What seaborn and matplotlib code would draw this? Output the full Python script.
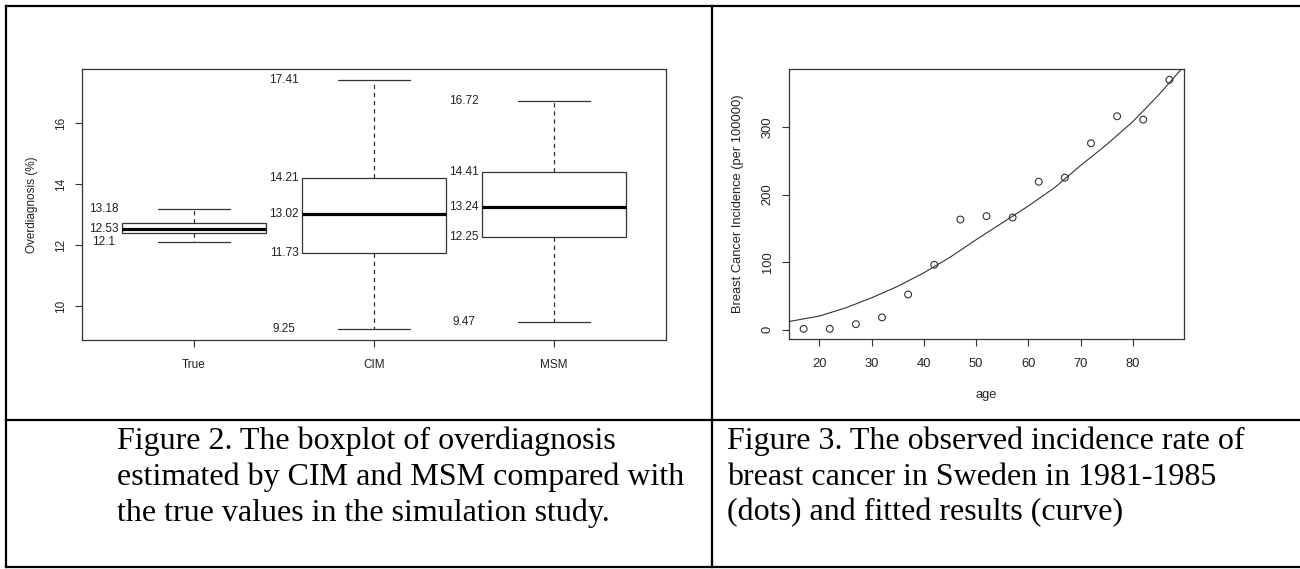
import numpy as np
import pandas as pd
import matplotlib
matplotlib.use('Agg')
import matplotlib.pyplot as plt
from matplotlib.lines import Line2D
import seaborn as sns

# ============================================================
# DATA
# ============================================================

# Figure 2: five-number summary per method (min, Q1, median, Q3, max)
methods  = ['True', 'CIM', 'MSM']
true_5   = [12.10, 12.40, 12.53, 12.72, 13.18]
cim_5    = [9.25, 11.73, 13.02, 14.21, 17.41]
msm_5    = [9.47, 12.25, 13.24, 14.41, 16.72]

# printed labels next to each box
true_lbl = [13.18, 12.53, 12.1]
cim_lbl  = [17.41, 14.21, 13.02, 11.73, 9.25]
msm_lbl  = [16.72, 14.41, 13.24, 12.25, 9.47]

# Figure 3: observed incidence (dots) and fitted curve
obs_age  = [17, 22, 27, 32, 37, 42, 47, 52, 57, 62, 67, 72, 77, 82, 87]
obs_rate = [1, 1, 8, 18, 52, 96, 163, 168, 166, 219, 225, 276, 316, 311, 370]
fit_age  = [12, 15, 20, 25, 30, 35, 40, 45, 50, 55, 60, 65, 70, 75, 80, 85, 90]
fit_rate = [9, 13, 20, 32, 47, 64, 84, 107, 133, 158, 183, 210, 243, 274, 308, 348, 392]

cap2 = ("Figure 2. The boxplot of overdiagnosis\n"
        "estimated by CIM and MSM compared with\n"
        "the true values in the simulation study.")
cap3 = ("Figure 3. The observed incidence rate of\n"
        "breast cancer in Sweden in 1981-1985\n"
        "(dots) and fitted results (curve)")

# ============================================================
# STYLE
# ============================================================

sns.set_style('ticks')
plt.rcParams['font.family'] = ['Liberation Sans', 'DejaVu Sans']
plt.rcParams['axes.edgecolor'] = '#333333'
plt.rcParams['axes.linewidth'] = 0.9

W, H = 1300, 569
fig = plt.figure(figsize=(W / 100, H / 100), dpi=100)
fig.patch.set_facecolor('white')

def fx(px):
    return px / W

def fy(py):
    return 1 - py / H

# ============================================================
# LEFT PANEL: boxplot
# ============================================================

ax1 = fig.add_axes([fx(82), fy(340), fx(666) - fx(82), fy(69) - fy(340)])
box_df = pd.DataFrame({
    'method': np.repeat(methods, 5),
    'value' : true_5 + cim_5 + msm_5,
})
sns.boxplot(data=box_df, x='method', y='value', order=methods, ax=ax1,
            width=0.8, whis=(0, 100), showfliers=False,
            color='white', linecolor='#333333', linewidth=0.9,
            medianprops=dict(color='black', linewidth=2.3),
            whiskerprops=dict(linestyle=(0, (3.5, 3))),
            capwidths=0.4)
ax1.set_xlim(-0.622, 2.622)
ax1.set_ylim(8.89, 17.77)
ax1.set_yticks([10, 12, 14, 16])
ax1.set_xlabel('')
ax1.set_ylabel('Overdiagnosis (%)', fontsize=8.5, color='#222222')
ax1.yaxis.set_label_coords(-0.075, 0.5)
for lbls, pos in zip([true_lbl, cim_lbl, msm_lbl], [0, 1, 2]):
    for v in lbls:
        ax1.text(pos - 0.5, v, f'{v:g}', ha='center', va='center',
                 fontsize=8.5, color='#222222')

# ============================================================
# RIGHT PANEL: incidence by age
# ============================================================

ax2 = fig.add_axes([fx(789), fy(339), fx(1184) - fx(789), fy(69) - fy(339)])
sns.lineplot(x=fit_age, y=fit_rate, ax=ax2, color='#333333', linewidth=0.8)
sns.scatterplot(x=obs_age, y=obs_rate, ax=ax2, marker='o', s=24,
                facecolor='none', edgecolor='#333333', linewidth=0.8)
ax2.set_xlim(14.2, 89.8)
ax2.set_ylim(-14, 386)
ax2.set_xticks([20, 30, 40, 50, 60, 70, 80])
ax2.set_yticks([0, 100, 200, 300])
ax2.set_xlabel('age', fontsize=9.3, color='#222222')
ax2.set_ylabel('Breast Cancer Incidence (per 100000)', fontsize=9.3, color='#222222')
ax2.xaxis.set_label_coords(0.5, -0.185)
ax2.yaxis.set_label_coords(-0.115, 0.5)

for ax, fs in [(ax1, 8.5), (ax2, 9.3)]:
    ax.tick_params(direction='out', length=5, width=0.8, color='#333333',
                   labelsize=fs, labelcolor='#222222', pad=6)
    ax.tick_params(axis='x', pad=8.5)
    for t in ax.get_yticklabels():
        t.set_rotation(90)
        t.set_va('center')
    for s in ax.spines.values():
        s.set_visible(True)
        s.set_color('#333333')

# ============================================================
# TABLE FRAME + CAPTIONS
# ============================================================

frame = [((6, 1300), (6, 6)), ((6, 1300), (420, 420)), ((6, 1300), (567, 567)),
         ((6, 6), (6, 567)), ((712, 712), (6, 567))]
for (x0, x1), (y0, y1) in frame:
    fig.add_artist(Line2D([fx(x0), fx(x1)], [fy(y0), fy(y1)], color='black',
                          linewidth=1.6, transform=fig.transFigure,
                          solid_capstyle='projecting'))

fig.text(fx(117), fy(427), cap2, ha='left', va='top', fontsize=23,
         family='Liberation Serif', linespacing=1.28, color='black')
fig.text(fx(727), fy(427), cap3, ha='left', va='top', fontsize=23,
         family='Liberation Serif', linespacing=1.28, color='black')

fig.savefig('out.png', dpi=100, facecolor='white')
